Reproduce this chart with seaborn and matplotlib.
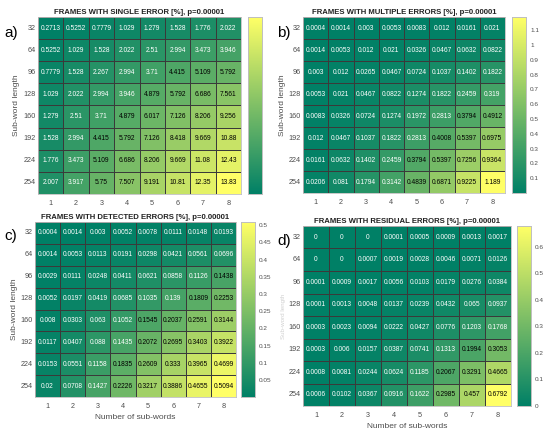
import numpy as np
import pandas as pd
import matplotlib
matplotlib.use("Agg")
import matplotlib.pyplot as plt
from matplotlib.ticker import FuncFormatter
import seaborn as sns

sns.set_style("white")
plt.rcParams['font.family'] = ['Liberation Sans', 'DejaVu Sans']

sub_word_lengths = [32, 64, 96, 128, 160, 192, 224, 254]
num_sub_words = [1, 2, 3, 4, 5, 6, 7, 8]

single_error = [
    [0.2713, 0.5252, 0.7779, 1.029, 1.279, 1.528, 1.776, 2.022],
    [0.5252, 1.029, 1.528, 2.022, 2.51, 2.994, 3.473, 3.946],
    [0.7779, 1.528, 2.267, 2.994, 3.71, 4.415, 5.109, 5.792],
    [1.029, 2.022, 2.994, 3.946, 4.879, 5.792, 6.686, 7.561],
    [1.279, 2.51, 3.71, 4.879, 6.017, 7.126, 8.206, 9.256],
    [1.528, 2.994, 4.415, 5.792, 7.126, 8.418, 9.669, 10.88],
    [1.776, 3.473, 5.109, 6.686, 8.206, 9.669, 11.08, 12.43],
    [2.007, 3.917, 5.75, 7.507, 9.191, 10.81, 12.35, 13.83],
]
multiple_errors = [
    [0.0004, 0.0014, 0.003, 0.0053, 0.0083, 0.012, 0.0161, 0.021],
    [0.0014, 0.0053, 0.012, 0.021, 0.0326, 0.0467, 0.0632, 0.0822],
    [0.003, 0.012, 0.0265, 0.0467, 0.0724, 0.1037, 0.1402, 0.1822],
    [0.0053, 0.021, 0.0467, 0.0822, 0.1274, 0.1822, 0.2459, 0.319],
    [0.0083, 0.0326, 0.0724, 0.1274, 0.1972, 0.2813, 0.3794, 0.4912],
    [0.012, 0.0467, 0.1037, 0.1822, 0.2813, 0.4008, 0.5397, 0.6975],
    [0.0161, 0.0632, 0.1402, 0.2459, 0.3794, 0.5397, 0.7256, 0.9364],
    [0.0206, 0.081, 0.1794, 0.3142, 0.4839, 0.6871, 0.9225, 1.189],
]
detected_errors = [
    [0.0004, 0.0014, 0.003, 0.0052, 0.0078, 0.0111, 0.0148, 0.0193],
    [0.0014, 0.0053, 0.0113, 0.0191, 0.0298, 0.0421, 0.0561, 0.0696],
    [0.0029, 0.0111, 0.0248, 0.0411, 0.0621, 0.0858, 0.1126, 0.1438],
    [0.0052, 0.0197, 0.0419, 0.0685, 0.1035, 0.139, 0.1809, 0.2253],
    [0.008, 0.0303, 0.063, 0.1052, 0.1545, 0.2037, 0.2591, 0.3144],
    [0.0117, 0.0407, 0.088, 0.1435, 0.2072, 0.2695, 0.3403, 0.3922],
    [0.0153, 0.0551, 0.1158, 0.1835, 0.2609, 0.333, 0.3965, 0.4699],
    [0.02, 0.0708, 0.1427, 0.2226, 0.3217, 0.3886, 0.4655, 0.5094],
]
residual_errors = [
    [0, 0, 0, 0.0001, 0.0005, 0.0009, 0.0013, 0.0017],
    [0, 0, 0.0007, 0.0019, 0.0028, 0.0046, 0.0071, 0.0126],
    [0.0001, 0.0009, 0.0017, 0.0056, 0.0103, 0.0179, 0.0276, 0.0384],
    [0.0001, 0.0013, 0.0048, 0.0137, 0.0239, 0.0432, 0.065, 0.0937],
    [0.0003, 0.0023, 0.0094, 0.0222, 0.0427, 0.0776, 0.1203, 0.1768],
    [0.0003, 0.006, 0.0157, 0.0387, 0.0741, 0.1313, 0.1994, 0.3053],
    [0.0008, 0.0081, 0.0244, 0.0624, 0.1185, 0.2067, 0.3291, 0.4665],
    [0.0006, 0.0102, 0.0367, 0.0916, 0.1622, 0.2985, 0.457, 0.6792],
]

titles = [
    "FRAMES WITH SINGLE ERROR [%], p=0.00001",
    "FRAMES WITH MULTIPLE ERRORS [%], p=0.00001",
    "FRAMES WITH DETECTED ERRORS [%], p=0.00001",
    "FRAMES WITH RESIDUAL ERRORS [%], p=0.00001",
]
panel_labels = ["a)", "b)", "c)", "d)"]

W, H = 550, 434
fig = plt.figure(figsize=(W / 100, H / 100), dpi=100)

def px(x0, y0, x1, y1):
    return [x0 / W, 1 - y1 / H, (x1 - x0) / W, (y1 - y0) / H]

panels = [
    dict(data=single_error, hm=(38, 17, 241, 194), cb=(248, 262), thr=4.0,
         cbticks=[2, 4, 6, 8, 10, 12], cblabels=False,
         xlabel=False, ylabel=True, lab=(4, 33), ylx=17),
    dict(data=multiple_errors, hm=(303, 17, 505, 193), cb=(512, 526), thr=0.35,
         cbticks=[0.1, 0.2, 0.3, 0.4, 0.5, 0.6, 0.7, 0.8, 0.9, 1.0, 1.1], cblabels=True,
         xlabel=False, ylabel=True, lab=(277, 33), ylx=282),
    dict(data=detected_errors, hm=(35, 222, 236, 397), cb=(241, 255), thr=0.1437,
         cbticks=[0.05, 0.1, 0.15, 0.2, 0.25, 0.3, 0.35, 0.4, 0.45, 0.5], cblabels=True,
         xlabel=True, ylabel=True, lab=(4, 236), ylx=15),
    dict(data=residual_errors, hm=(303, 226, 511, 406), cb=(517, 531), thr=0.19,
         cbticks=[0, 0.1, 0.2, 0.3, 0.4, 0.5, 0.6], cblabels=True,
         xlabel=True, ylabel=False, lab=(277, 241), ylx=283),
]

grey = "#4d4d4d"
fmt_g = FuncFormatter(lambda v, pos: f"{v:g}")
for i, p in enumerate(panels):
    x0, y0, x1, y1 = p["hm"]
    ax = fig.add_axes(px(x0, y0, x1, y1))
    cax = fig.add_axes(px(p["cb"][0], y0, p["cb"][1], y1))
    arr = np.array(p["data"], dtype=float)
    df = pd.DataFrame(arr, index=sub_word_lengths, columns=num_sub_words)
    labels = np.vectorize(lambda v: f"{v:.4g}")(arr)
    sns.heatmap(df, ax=ax, cbar_ax=cax, cmap="summer", annot=labels, fmt="",
                annot_kws=dict(fontsize=4.8), linewidths=0.5, linecolor="#3a3a3a")
    for t, v in zip(ax.texts, arr.flatten()):
        t.set_color("black" if v >= p["thr"] else "white")
    ax.set_title(titles[i], fontsize=5.6, fontweight="bold", pad=2.5, color="#222222")
    ax.tick_params(axis="both", length=0, labelsize=5.2, colors=grey, pad=1.5)
    ax.tick_params(axis="x", pad=4)
    ax.set_yticklabels(sub_word_lengths, rotation=0)
    ax.set_xticklabels(num_sub_words, rotation=0)
    for s in ax.spines.values():
        s.set_visible(True)
        s.set_color("#bfbfbf")
        s.set_linewidth(0.6)
    if p["xlabel"]:
        ax.set_xlabel("Number of sub-words", fontsize=6, color=grey, labelpad=3)
    else:
        ax.set_xlabel("")
    ax.set_ylabel("")
    fig.text(p["ylx"] / W, 1 - ((y0 + y1) / 2) / H, "Sub-word length", rotation=90,
             ha="center", va="center", fontsize=6 if p["ylabel"] else 4.5,
             color=grey if p["ylabel"] else "#d0d0d0")
    fig.text(p["lab"][0] / W, 1 - p["lab"][1] / H, panel_labels[i],
             fontsize=11, ha="left", va="center", color="black")
    cax.set_yticks(p["cbticks"])
    cax.yaxis.set_major_formatter(fmt_g)
    cax.tick_params(axis="y", labelsize=4.6, colors=grey, length=2, width=0.4,
                    direction="in", pad=3, labelright=p["cblabels"])
    for s in cax.spines.values():
        s.set_visible(True)
        s.set_color("#bfbfbf")
        s.set_linewidth(0.6)

fig.savefig("out.png", dpi=100)
